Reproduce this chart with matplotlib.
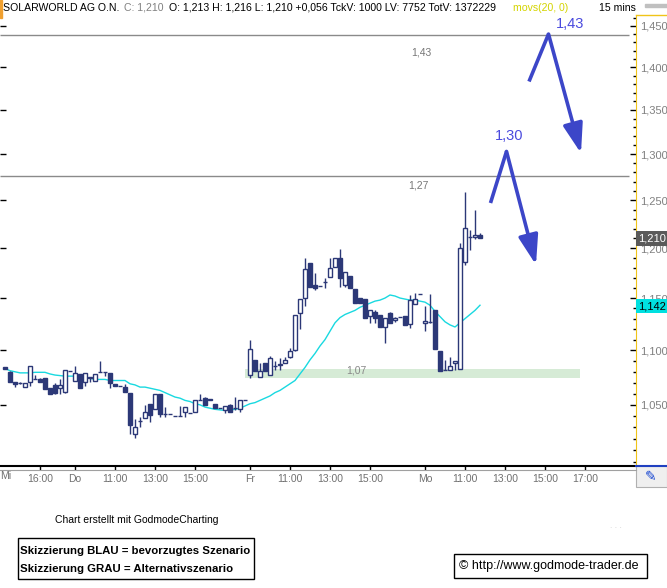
import matplotlib
matplotlib.use("Agg")
import matplotlib.pyplot as plt
import numpy as np
from matplotlib.ticker import FixedLocator, FuncFormatter, NullFormatter
from matplotlib.transforms import blended_transform_factory
from matplotlib.patches import Rectangle
from matplotlib.lines import Line2D

plt.rcParams['font.family'] = ['Liberation Sans', 'DejaVu Sans']

# 15-min candles, Mi 14:15 ... Mo 11:45
opens = [1.084, 1.080, 1.071, 1.070, 1.066, 1.071, 1.073, 1.073, 1.074, 1.065,
         1.068, 1.065, 1.062, 1.081, 1.072, 1.078, 1.071, 1.075, 1.072, 1.080,
         1.080, 1.079, 1.069, 1.067, 1.066, 1.061, 1.024, 1.036, 1.038, 1.051,
         1.046, 1.060, 1.042, 1.042, 1.040, 1.040, 1.044, 1.043, 1.044, 1.054,
         1.056, 1.055, 1.051, 1.047, 1.045, 1.050, 1.047, 1.046, 1.054, 1.077,
         1.091, 1.075, 1.088, 1.077, 1.085, 1.086, 1.088, 1.094, 1.100, 1.135,
         1.150, 1.185, 1.163, 1.162, 1.166, 1.171, 1.181, 1.190, 1.163, 1.172,
         1.159, 1.150, 1.149, 1.133, 1.136, 1.134, 1.122, 1.135, 1.129, 1.132,
         1.133, 1.125, 1.144, 1.154, 1.126, 1.127, 1.138, 1.099, 1.082, 1.082,
         1.088, 1.083, 1.186, 1.211, 1.211, 1.213]
highs = [1.084, 1.081, 1.071, 1.071, 1.070, 1.085, 1.077, 1.074, 1.074, 1.065,
         1.070, 1.073, 1.082, 1.081, 1.085, 1.078, 1.079, 1.075, 1.078, 1.090,
         1.080, 1.079, 1.069, 1.067, 1.069, 1.061, 1.037, 1.039, 1.050, 1.051,
         1.060, 1.060, 1.048, 1.042, 1.040, 1.049, 1.048, 1.043, 1.054, 1.060,
         1.057, 1.055, 1.051, 1.047, 1.049, 1.051, 1.057, 1.054, 1.054, 1.110,
         1.091, 1.088, 1.088, 1.095, 1.090, 1.093, 1.094, 1.102, 1.134, 1.149,
         1.190, 1.185, 1.175, 1.162, 1.170, 1.190, 1.190, 1.199, 1.176, 1.172,
         1.159, 1.150, 1.149, 1.138, 1.138, 1.134, 1.131, 1.136, 1.132, 1.132,
         1.133, 1.153, 1.155, 1.154, 1.142, 1.154, 1.138, 1.099, 1.091, 1.094,
         1.090, 1.205, 1.259, 1.219, 1.240, 1.216]
lows = [1.083, 1.071, 1.066, 1.069, 1.066, 1.067, 1.073, 1.071, 1.064, 1.060,
        1.060, 1.060, 1.061, 1.081, 1.072, 1.065, 1.067, 1.071, 1.072, 1.080,
        1.076, 1.065, 1.067, 1.067, 1.062, 1.024, 1.021, 1.030, 1.038, 1.035,
        1.046, 1.039, 1.039, 1.042, 1.040, 1.040, 1.039, 1.043, 1.044, 1.054,
        1.050, 1.054, 1.047, 1.047, 1.043, 1.044, 1.045, 1.044, 1.054, 1.074,
        1.081, 1.075, 1.081, 1.077, 1.082, 1.082, 1.088, 1.093, 1.099, 1.120,
        1.142, 1.161, 1.158, 1.162, 1.160, 1.171, 1.181, 1.161, 1.161, 1.160,
        1.145, 1.145, 1.131, 1.126, 1.126, 1.122, 1.107, 1.126, 1.127, 1.132,
        1.124, 1.121, 1.144, 1.154, 1.118, 1.126, 1.101, 1.081, 1.082, 1.082,
        1.082, 1.083, 1.183, 1.198, 1.209, 1.210]
closes = [1.083, 1.071, 1.069, 1.070, 1.070, 1.085, 1.073, 1.071, 1.064, 1.060,
          1.061, 1.068, 1.082, 1.081, 1.079, 1.065, 1.079, 1.074, 1.078, 1.080,
          1.080, 1.070, 1.067, 1.067, 1.062, 1.032, 1.030, 1.036, 1.044, 1.041,
          1.060, 1.042, 1.042, 1.042, 1.040, 1.040, 1.048, 1.043, 1.054, 1.054,
          1.050, 1.054, 1.047, 1.047, 1.049, 1.044, 1.047, 1.054, 1.054, 1.101,
          1.081, 1.081, 1.081, 1.093, 1.085, 1.087, 1.091, 1.099, 1.134, 1.149,
          1.179, 1.161, 1.160, 1.162, 1.166, 1.180, 1.190, 1.170, 1.176, 1.160,
          1.145, 1.145, 1.131, 1.138, 1.131, 1.122, 1.131, 1.126, 1.131, 1.132,
          1.124, 1.148, 1.149, 1.154, 1.128, 1.127, 1.101, 1.081, 1.082, 1.085,
          1.090, 1.200, 1.221, 1.211, 1.213, 1.210]
# movs(20, 0) as drawn
ma20 = [1.083, 1.081, 1.080, 1.079, 1.079, 1.079, 1.0795, 1.0795, 1.0795, 1.078,
        1.077, 1.0765, 1.076, 1.076, 1.076, 1.075, 1.075, 1.074, 1.073, 1.073,
        1.073, 1.072, 1.072, 1.072, 1.072, 1.069, 1.068, 1.066, 1.066, 1.065,
        1.064, 1.063, 1.061, 1.059, 1.057, 1.056, 1.054, 1.053, 1.051, 1.050,
        1.048, 1.047, 1.046, 1.0455, 1.045, 1.0455, 1.046, 1.047, 1.049, 1.051,
        1.052, 1.054, 1.056, 1.058, 1.061, 1.063, 1.066, 1.069, 1.072, 1.078,
        1.084, 1.091, 1.097, 1.104, 1.110, 1.118, 1.126, 1.131, 1.134, 1.136,
        1.138, 1.141, 1.143, 1.145, 1.147, 1.148, 1.150, 1.153, 1.152, 1.150,
        1.149, 1.148, 1.148, 1.147, 1.146, 1.143, 1.137, 1.132, 1.127, 1.124,
        1.122, 1.126, 1.130, 1.134, 1.138, 1.143]

tick_pos = [7, 14, 22, 30, 38, 49, 57, 65, 73, 84, 92, 100, 108, 116]
tick_lab = ['16:00', 'Do', '11:00', '13:00', '15:00', 'Fr', '11:00', '13:00',
            '15:00', 'Mo', '11:00', '13:00', '15:00', '17:00']
price_ticks = [1.05, 1.10, 1.15, 1.20, 1.25, 1.30, 1.35, 1.40, 1.45]

levels = [1.439, 1.276]
level_labels = ['1,43', '1,27']
support = (1.0745, 1.0826)

# scenario sketch: start, peak, target
scen1 = [(97.1, 1.247), (100.3, 1.303), (106.2, 1.183)]
scen2 = [(104.8, 1.383), (108.7, 1.440), (115.2, 1.301)]

W, H = 667, 588
fig = plt.figure(figsize=(6.67, 5.88), dpi=100)
ax = fig.add_axes([0, 1 - 466 / H, 636 / W, (466 - 15) / H])
ax.set_yscale('log')

o = np.array(opens)
c = np.array(closes)
x = np.arange(len(c))
navy = '#2c3877'

ax.fill_between([48, 115], support[0], support[1], color='#d6ebd6', lw=0, zorder=1)
ax.hlines(levels, -1, 124.8, color='#8a8a8a', lw=1, zorder=1.5)
ax.plot(x, ma20, color='#19d9e0', lw=1, zorder=2.5)
ax.vlines(x, lows, highs, color=navy, lw=1, zorder=3)
ax.bar(x, np.abs(c - o), bottom=np.minimum(o, c), width=0.7,
       color=np.where(c >= o, 'white', navy), edgecolor=navy, lw=1, zorder=4)

ax.text(83.2, 1.417, level_labels[0], color='#777777', fontsize=7.5, ha='center', va='center')
ax.text(82.6, 1.2653, level_labels[1], color='#777777', fontsize=7.5, ha='center', va='center')
ax.text(70.2, 1.0813, '1,07', color='#888888', fontsize=7.5, ha='center', va='center', zorder=5)

blue = '#3c46c8'
for sc in (scen1, scen2):
    ax.plot([sc[0][0], sc[1][0]], [sc[0][1], sc[1][1]], color=blue, lw=2.6,
            solid_capstyle='butt', zorder=6)
    ax.annotate('', xy=sc[2], xytext=sc[1],
                arrowprops=dict(arrowstyle='-|>,head_length=0.9,head_width=0.3',
                                color=blue, lw=2.6, mutation_scale=20,
                                shrinkA=0, shrinkB=0), zorder=6)
ax.text(100.8, 1.320, '1,30', color='#4a4ade', fontsize=10.5, ha='center', va='center')
ax.text(113.0, 1.452, '1,43', color='#4a4ade', fontsize=10.5, ha='center', va='center')

ax.set_xlim(-1, 126.2)
ax.set_ylim(0.9967, 1.4636)

for s in ('top', 'left'):
    ax.spines[s].set_visible(False)
ax.spines['right'].set_color('#f0c419')
ax.spines['bottom'].set_color('black')
ax.spines['bottom'].set_linewidth(1.5)

ax.yaxis.set_major_locator(FixedLocator(price_ticks))
ax.yaxis.set_minor_locator(FixedLocator(np.arange(1.00, 1.465, 0.01)))
ax.yaxis.set_major_formatter(FuncFormatter(lambda v, p: f'{v:.3f}'.replace('.', ',')))
ax.yaxis.set_minor_formatter(NullFormatter())
ax.tick_params(axis='y', which='major', left=True, right=True, labelleft=False,
               labelright=True, direction='in', length=4, width=1, color='black',
               labelcolor='#808080', labelsize=8, pad=3)
ax.tick_params(axis='y', which='minor', left=False, right=True, direction='in',
               length=2, width=1, color='black')

ax.set_xticks(tick_pos)
ax.set_xticklabels(tick_lab)
ax.tick_params(axis='x', direction='out', length=3, width=1, color='black',
               labelcolor='#707070', labelsize=7.5, pad=3)

tr = blended_transform_factory(ax.transAxes, ax.transData)
ax.text(1.004, 1.210, '1,210', transform=tr, color='white', fontsize=8, va='center',
        ha='left', bbox=dict(boxstyle='square,pad=0.2', fc='#5a5a5a', ec='none'), zorder=7)
ax.text(1.004, 1.142, '1,142', transform=tr, color='black', fontsize=8, va='center',
        ha='left', bbox=dict(boxstyle='square,pad=0.2', fc='#00e0e0', ec='none'), zorder=7)

# header
hy = 1 - 8 / H
fig.text(3 / W, hy, 'SOLARWORLD AG O.N.', fontsize=7.6, va='center')
fig.text(124 / W, hy, 'C: 1,210', fontsize=7.6, va='center', color='#808080')
fig.text(169 / W, hy, 'O: 1,213 H: 1,216 L: 1,210 +0,056 TckV: 1000 LV: 7752 TotV: 1372229',
         fontsize=7.6, va='center')
fig.text(513 / W, hy, 'movs(20, 0)', fontsize=7.6, va='center', color='#d4d400')
fig.text(599 / W, hy, '15 mins', fontsize=7.6, va='center')
fig.patches.append(Rectangle((0, 1 - 18 / H), 2 / W, 18 / H, transform=fig.transFigure,
                             color='#f0a030'))
fig.patches.append(Rectangle((645 / W, 1 - 7 / H), 22 / W, 3 / H, transform=fig.transFigure,
                             color='#c0c0c0'))
fig.add_artist(Line2D([636 / W, 1], [1 - 15 / H] * 2, color='#f0c419', lw=1))

# bottom axis decorations
fig.add_artist(Line2D([0, 636 / W], [1 - 470 / H] * 2, color='#a0a0a0', lw=0.8))
fig.text(0.5 / W, 1 - 476 / H, 'Mi', fontsize=7.5, color='#707070', ha='left', va='center')
fig.patches.append(Rectangle((636 / W, 1 - 487 / H), 31 / W, 21 / H, transform=fig.transFigure,
                             fc='#efefef', ec='#b0b0b0', lw=0.8))
fig.add_artist(Line2D([636 / W, 1], [1 - 466 / H] * 2, color='#2040c0', lw=1.5))
fig.text(651 / W, 1 - 477 / H, '\u270e', fontsize=10, color='#1040d0', ha='center', va='center',
         family=['DejaVu Sans'])

# footer
fig.text(137 / W, 1 - 520 / H, 'Chart erstellt mit GodmodeCharting', fontsize=7.5,
         ha='center', va='center')
fig.patches.append(Rectangle((18 / W, 1 - 578.5 / H), 236 / W, 40.5 / H,
                             transform=fig.transFigure, fill=False, ec='black', lw=1))
fig.text(20 / W, 1 - 551 / H, 'Skizzierung BLAU = bevorzugtes Szenario', fontsize=8.2,
         fontweight='bold', va='center')
fig.text(20 / W, 1 - 569 / H, 'Skizzierung GRAU = Alternativszenario', fontsize=8.2,
         fontweight='bold', va='center')
fig.patches.append(Rectangle((454 / W, 1 - 578 / H), 193 / W, 24 / H,
                             transform=fig.transFigure, fill=False, ec='black', lw=1))
fig.text(459 / W, 1 - 566 / H, '\u00a9 http://www.godmode-trader.de', fontsize=9, va='center')
fig.text(616 / W, 1 - 527 / H, '. . .', fontsize=6, color='#d0d0d0', ha='center', va='center')

fig.savefig('out.png', dpi=100)
